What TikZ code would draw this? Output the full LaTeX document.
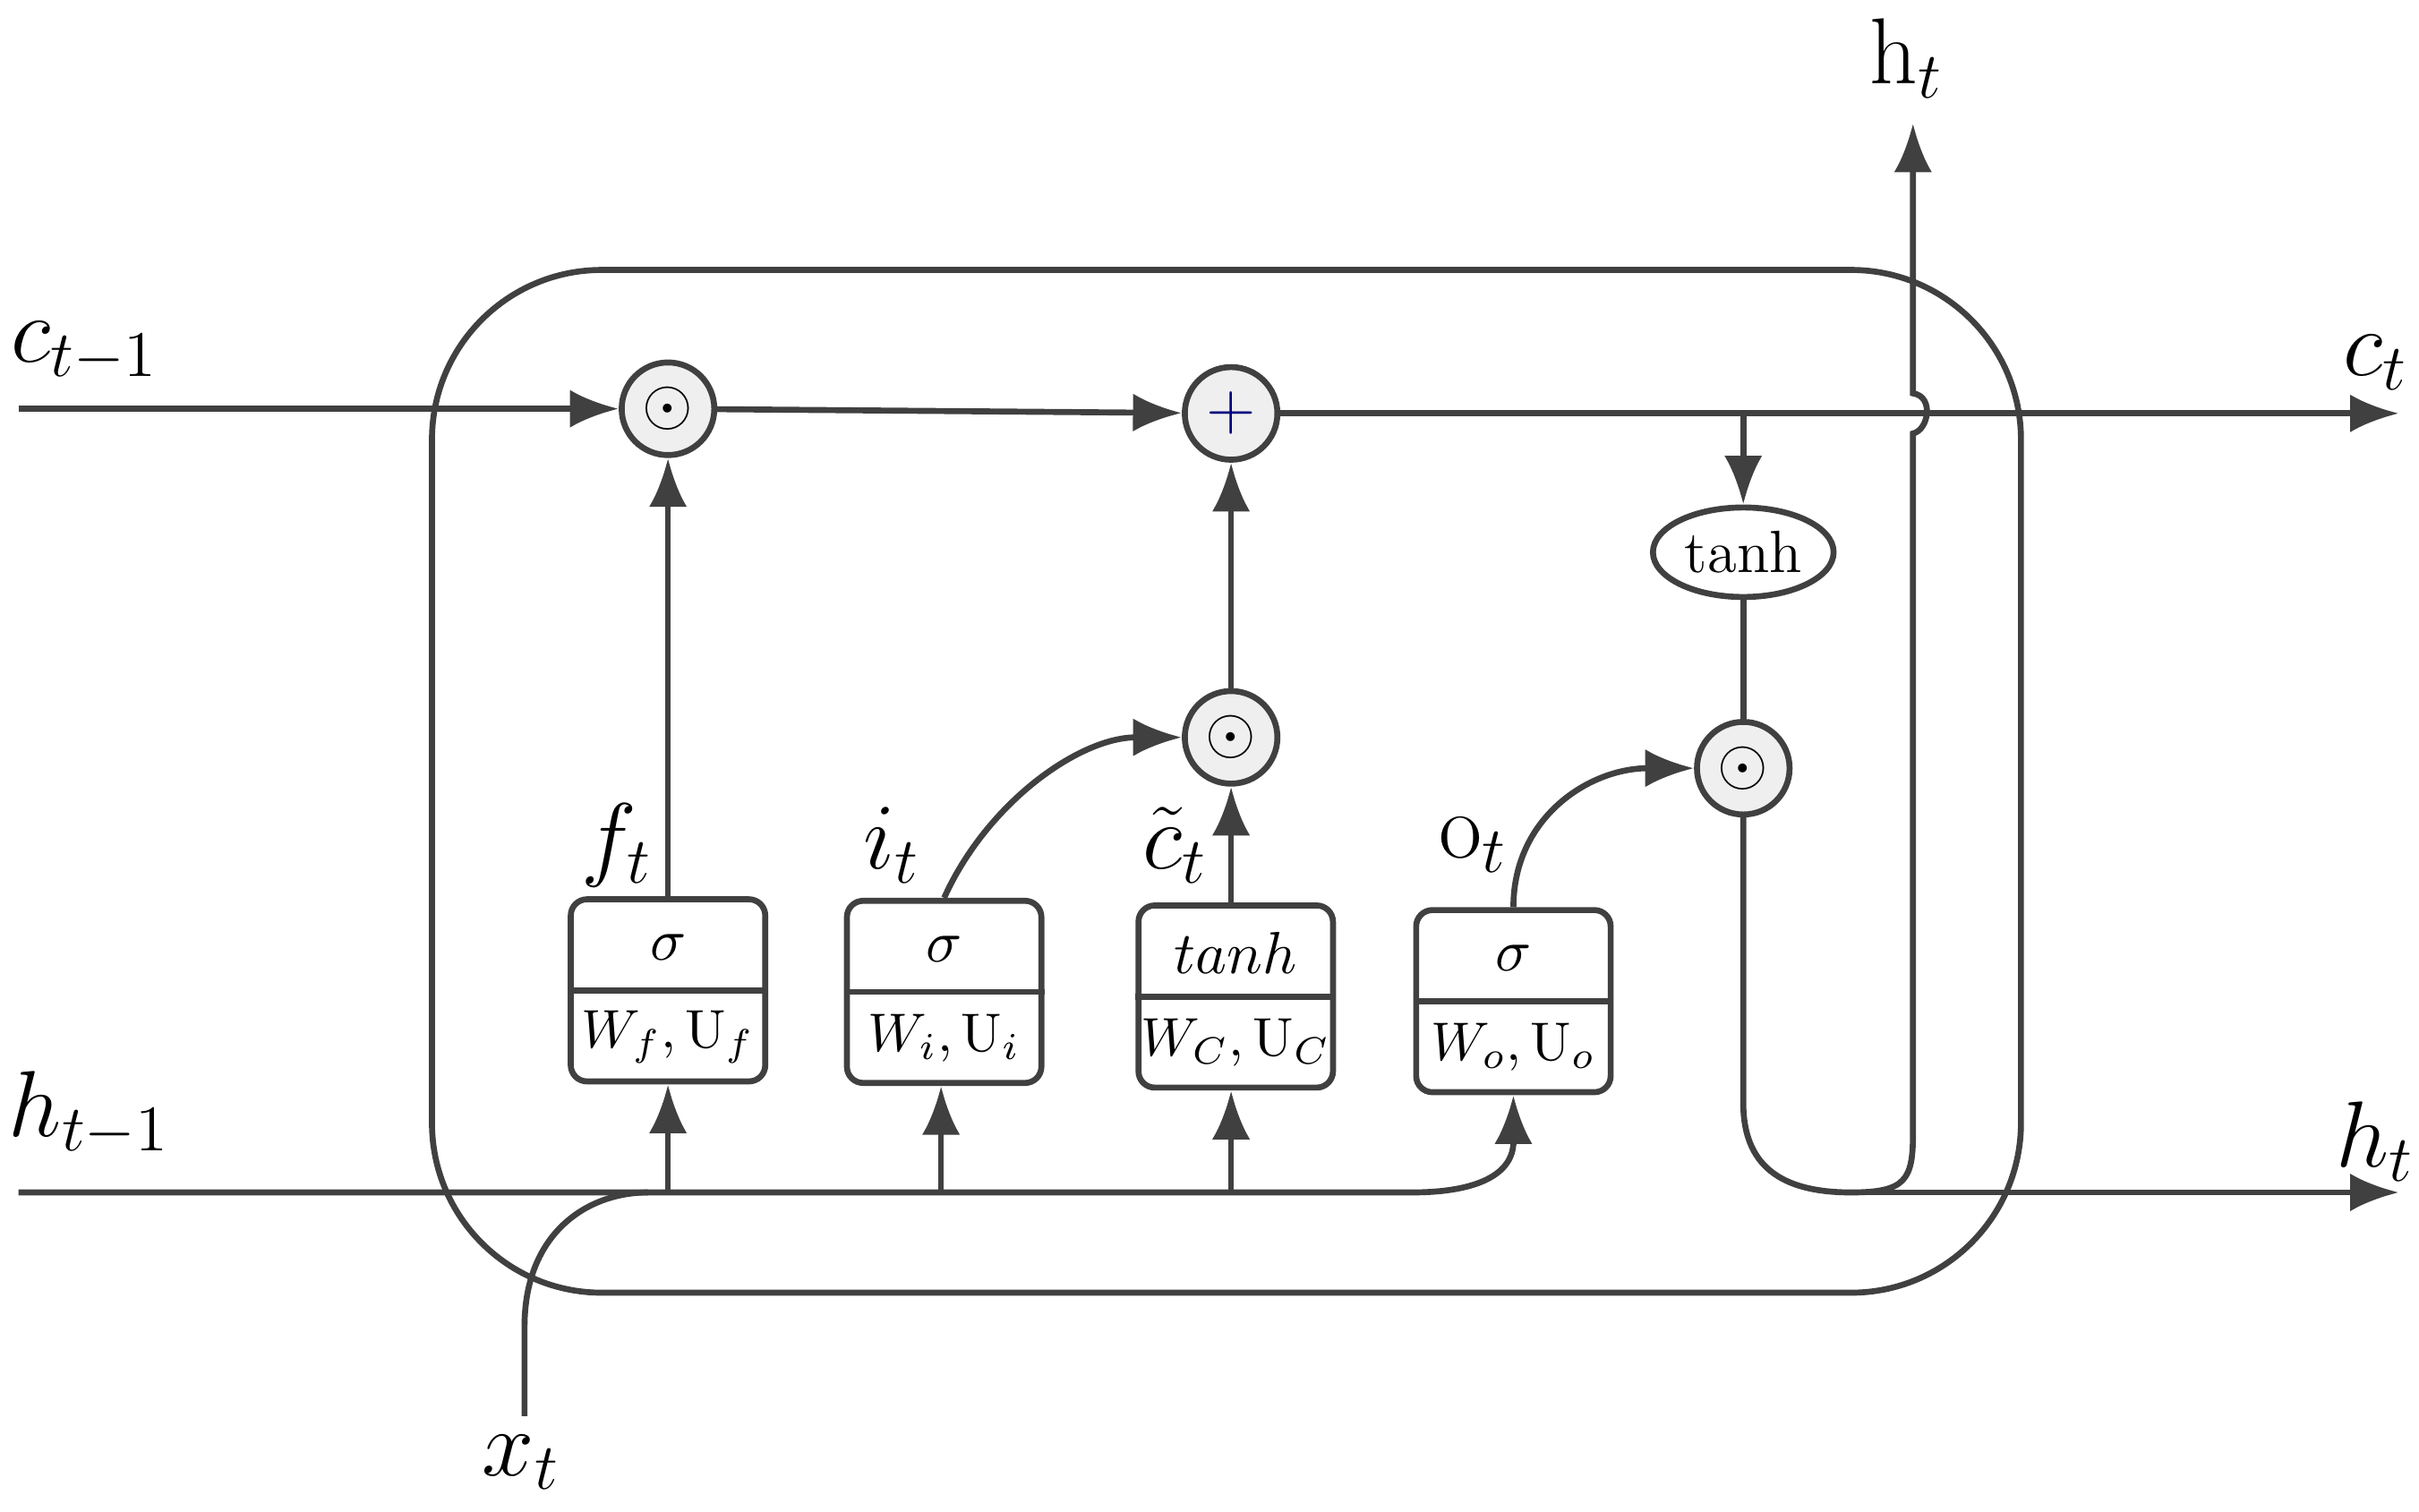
\documentclass[tikz,border=0pt]{standalone}
\usetikzlibrary{arrows.meta,shapes.geometric}
\definecolor{ln}{HTML}{404040}
\definecolor{cf}{HTML}{EFEFEF}
\begin{document}
\begin{tikzpicture}[x=0.01cm,y=-0.01cm,
  l/.style={draw=ln,line width=1.1pt},
  ar/.style={l,-{Latex[length=9pt,width=7pt]}},
  op/.style={circle,draw=ln,fill=cf,line width=1.1pt,minimum size=0.6cm,inner sep=0pt,font=\large},
  gate/.style={rectangle,draw=ln,rounded corners=3pt,line width=1.1pt,minimum width=1.26cm,minimum height=1.18cm},
  lab/.style={font=\fontsize{17}{20}\selectfont,text=black},
  bl/.style={font=\fontsize{11}{13}\selectfont,text=black},
  bs/.style={font=\fontsize{10}{12}\selectfont,text=black}]
\useasboundingbox (0,0) rectangle (1568,980);
\draw[l,rounded corners=1.1cm] (280,175) rectangle (1310,838);
% operators
\node[op] (m1) at (433,265) {$\odot$};
\node[op] (pl) at (798,268) {\textcolor{blue!50!black}{$+$}};
\node[op] (m2) at (798,478) {$\odot$};
\node[op] (m3) at (1130,498) {$\odot$};
\node[ellipse,draw=ln,line width=1.1pt,minimum width=1.13cm,minimum height=0.58cm,inner sep=1pt,bl] (th) at (1130,358) {tanh};
% gates
\foreach \n/\x/\y/\a/\b in {f/433/642/{$\sigma$}/{$W_f,\mathrm{U}_f$},i/612/643/{$\sigma$}/{$W_i,\mathrm{U}_i$},c/801/646/{$tanh$}/{$W_C,\mathrm{U}_C$},o/981/649/{$\sigma$}/{$W_o,\mathrm{U}_o$}}{
  \node[gate] (\n) at (\x,\y) {};
  \draw[l] (\n.west) -- (\n.east);
  \node[bl] at (\x,\y-28) {\a};
  \node[bs] at (\x,\y+30) {\b};
}
% coordinates
\coordinate (cin) at (12,265);
\coordinate (cout) at (1555,268);
\coordinate (hin) at (12,773);
\coordinate (hout) at (1555,773);
\coordinate (htop) at (1240,80);
\coordinate (xin) at (340,918);
% cell line
\draw[ar] (cin) -- (m1);
\draw[ar] (m1) -- (pl);
\draw[ar] (pl) -- (cout);
\draw[ar] (1130,268) -- (th.north);
\draw[l] (th.south) -- (m3.north);
\draw[l] (m3.south) -- (1130,715) .. controls (1130,760) and (1160,773) .. (1200,773);
\draw[ar] (1200,773) -- (hout);
\draw[ar] (1200,773) .. controls (1235,773) and (1240,765) .. (1240,735) -- (1240,281)
  .. controls (1250,279) and (1254,257) .. (1240,255) -- (htop);
% gate outputs
\draw[ar] (f.north) -- (m1);
\draw[ar] (i.north) .. controls (640,520) and (700,478) .. (m2.west);
\draw[ar] (c.north -| m2) -- (m2);
\draw[ar] (m2) -- (pl);
\draw[ar] (o.north) .. controls (981,530) and (1030,498) .. (m3.west);
% inputs
\draw[l] (hin) -- (915,773) .. controls (960,773) and (981,760) .. (981,740);
\draw[ar] (981,742) -- (o.south);
\draw[ar] (433,773) -- (f.south);
\draw[ar] (610,773) -- (i.south -| 610,0);
\draw[ar] (798,773) -- (c.south -| 798,0);
\draw[l] (xin) -- (340,860) .. controls (340,800) and (380,773) .. (420,773);
% labels
\node[lab] at (55,228) {$c_{t-1}$};
\node[lab] at (58,722) {$h_{t-1}$};
\node[lab] at (1540,235) {$c_t$};
\node[lab] at (1540,740) {$h_t$};
\node[lab] at (1236,38) {$\mathrm{h}_t$};
\node[lab] at (400,548) {$f_t$};
\node[lab] at (578,548) {$i_t$};
\node[lab] at (762,548) {$\tilde{c}_t$};
\node[lab] at (955,548) {$\mathrm{o}_t$};
\node[lab] at (338,948) {$x_t$};
\end{tikzpicture}
\end{document}
